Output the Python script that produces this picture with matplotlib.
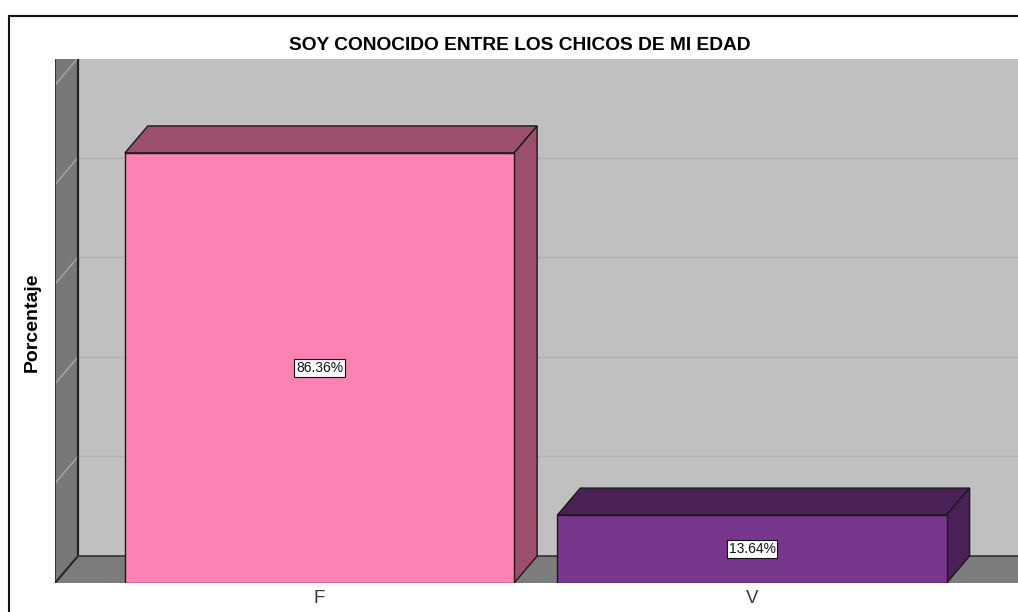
import matplotlib
matplotlib.use("Agg")
import matplotlib.pyplot as plt
from matplotlib.patches import Polygon, Rectangle

# ---- data ----
categories = ["F", "V"]
values = [86.36, 13.64]
value_labels = ["86.36%", "13.64%"]
title = "SOY CONOCIDO ENTRE LOS CHICOS DE MI EDAD"
ylabel = "Porcentaje"
grid_values = [20, 40, 60, 80, 100]

front_colors = ["#FF82B4", "#77378C"]
dark_colors = ["#9C4F6D", "#4A2156"]

W, H, DPI = 1018, 612, 100
fig = plt.figure(figsize=(W / DPI, H / DPI), dpi=DPI)
plt.rcParams['font.family'] = ['Liberation Sans', 'DejaVu Sans']

# axes in pixel layout
left_px, right_px, bottom_px, top_px = 55, 1018, 583, 59
ax = fig.add_axes([left_px / W, 1 - bottom_px / H,
                   (right_px - left_px) / W, (bottom_px - top_px) / H])

px_per_cat = 432.5
px_per_pct = 4.98
x0 = -(319.5 - left_px) / px_per_cat
x1 = x0 + (right_px - left_px) / px_per_cat
ytop = (bottom_px - top_px) / px_per_pct
ax.set_xlim(x0, x1)
ax.set_ylim(0, ytop)

ddx = 23 / px_per_cat
ddy = 27 / px_per_pct
bar_w = 0.9

# back wall
ax.add_patch(Polygon([(x0 + ddx, ddy), (x1 + 1, ddy), (x1 + 1, ytop + 10), (x0 + ddx, ytop + 10)],
                     closed=True, facecolor="#C0C0C0", edgecolor="none", zorder=0))
# gridlines on back wall and left wall
for g in grid_values:
    ax.plot([x0 + ddx, x1 + 1], [g + ddy, g + ddy], color="#B2B2B2", lw=1.0, zorder=1)
# left wall
ax.add_patch(Polygon([(x0, 0), (x0 + ddx, ddy), (x0 + ddx, ytop + 10), (x0, ytop + 10)],
                     closed=True, facecolor="#787878", edgecolor="none", zorder=2))
for g in grid_values:
    ax.plot([x0, x0 + ddx], [g, g + ddy], color="#A8A8A8", lw=1.0, zorder=2.5)
# floor
ax.add_patch(Polygon([(x0, 0), (x0 + ddx, ddy), (x1 + 1, ddy), (x1 + 1, 0)],
                     closed=True, facecolor="#7C7C7C", edgecolor="none", zorder=2))
# wall edges
ax.plot([x0 + ddx, x0 + ddx], [ddy, ytop + 10], color="#222222", lw=1.6, zorder=3)
ax.plot([x0, x0], [0, ytop + 10], color="#333333", lw=1.4, zorder=3)
ax.plot([x0, x0 + ddx], [0, ddy], color="#222222", lw=1.4, zorder=3)
ax.plot([x0 + ddx, x1 + 1], [ddy, ddy], color="#333333", lw=1.2, zorder=3)

# bars
xs = list(range(len(categories)))
ax.bar(xs, values, width=bar_w, color=front_colors, edgecolor="#1a1a1a", linewidth=1.0, zorder=5)
for x, v, dc in zip(xs, values, dark_colors):
    l, r = x - bar_w / 2, x + bar_w / 2
    ax.add_patch(Polygon([(l, v), (r, v), (r + ddx, v + ddy), (l + ddx, v + ddy)], closed=True,
                         facecolor=dc, edgecolor="#1a1a1a", lw=1.0, zorder=4))
    ax.add_patch(Polygon([(r, 0), (r, v), (r + ddx, v + ddy), (r + ddx, ddy)], closed=True,
                         facecolor=dc, edgecolor="#1a1a1a", lw=1.0, zorder=4))
for x, v, lab in zip(xs, values, value_labels):
    ax.text(x, v / 2, lab, ha="center", va="center", fontsize=10, color="#111111", zorder=6,
            bbox=dict(boxstyle="square,pad=0.12", facecolor="white", edgecolor="#111111", lw=0.8))

ax.set_xticks(xs)
ax.set_xticklabels(categories, fontsize=13.5, color="#3a3a3a")
ax.tick_params(axis="x", length=0, pad=5)
ax.set_yticks([])
for s in ax.spines.values():
    s.set_visible(False)

fig.text(520 / W, 1 - 45 / H, title, ha="center", va="center", fontsize=13.8, fontweight="bold")
fig.text(32 / W, 1 - 322 / H, ylabel, ha="center", va="center", rotation=90,
         fontsize=14, fontweight="bold")

# outer frame
fig.add_artist(Rectangle((8.5 / W, -0.1), 1.2, (1 - 16 / H) + 0.1, transform=fig.transFigure,
                         fill=False, edgecolor="#111111", lw=1.5))

fig.savefig("out.png", dpi=DPI)
